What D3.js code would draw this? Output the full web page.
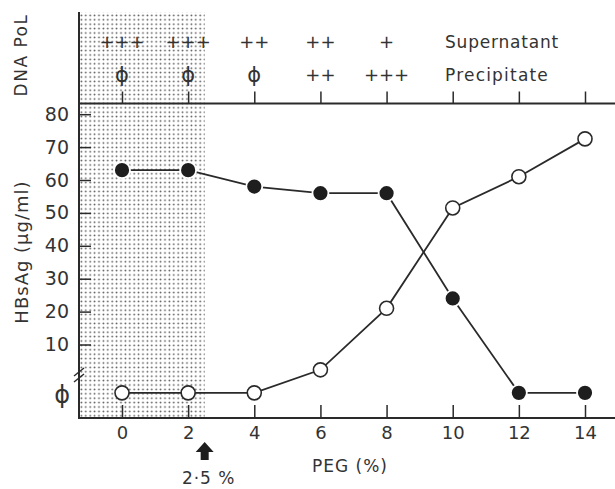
<!DOCTYPE html>
<html><head><meta charset="utf-8">
<script src="https://cdn.jsdelivr.net/npm/d3@7"></script>
<style>
html,body{margin:0;padding:0;background:#fff;}
text{font-family:"DejaVu Sans",sans-serif;fill:#333;}
</style></head>
<body><svg id="c" width="615" height="489"></svg>
<script>
// ---- data ----
const peg = [0, 2, 4, 6, 8, 10, 12, 14];
// null = not detected (ϕ)
const supernatantHBsAg = [63, 63, 58, 56, 56, 24, null, null];   // filled circles
const precipitateHBsAg = [null, null, null, 2.3, 21, 51.5, 61, 72.5]; // open circles
const yTicks = [10, 20, 30, 40, 50, 60, 70, 80];
const dnaPolPeg = [0, 2, 4, 6, 8];
const dnaPolSupernatant = ["+++", "+++", "++", "++", "+"];
const dnaPolPrecipitate = ["ϕ", "ϕ", "ϕ", "++", "+++"];
const cutoff = 2.5;

const svg = d3.select("#c");
const W = 615;
const axX = 79, topY = 12, sepY = 103.5, botY = 418;

const x = d3.scaleLinear().domain([0, 14]).range([122, 585]);
const y = d3.scaleLinear().domain([10, 80]).range([344.5, 114.2]);
const phiY = y(-4.7);
const yv = v => v === null ? phiY : y(v);

// shading pattern
const defs = svg.append("defs");
const pat = defs.append("pattern").attr("id", "dots").attr("patternUnits", "userSpaceOnUse")
  .attr("width", 4.4).attr("height", 4.4);
pat.append("circle").attr("cx", 2.2).attr("cy", 2.2).attr("r", 0.9).attr("fill", "#555");
svg.append("rect").attr("x", axX).attr("y", topY).attr("width", x(cutoff) - axX)
  .attr("height", botY - topY).attr("fill", "url(#dots)");

// axes lines
const lineCol = "#2a2a2a";
svg.append("line").attr("x1", axX).attr("x2", axX).attr("y1", topY).attr("y2", botY)
  .attr("stroke", lineCol).attr("stroke-width", 2);
svg.append("line").attr("x1", axX - 1).attr("x2", W).attr("y1", botY).attr("y2", botY)
  .attr("stroke", lineCol).attr("stroke-width", 2);
svg.append("line").attr("x1", axX - 1).attr("x2", W).attr("y1", sepY).attr("y2", sepY)
  .attr("stroke", lineCol).attr("stroke-width", 2);

// x axis (ticks inward)
const gx = svg.append("g").attr("transform", `translate(0,${botY})`)
  .call(d3.axisBottom(x).tickValues(peg).tickSize(-13).tickSizeOuter(0).tickPadding(8));
gx.select(".domain").remove();
gx.selectAll(".tick line").attr("stroke", lineCol).attr("stroke-width", 1.5);
gx.selectAll(".tick text").attr("font-size", 18).attr("font-family", "DejaVu Sans").attr("fill", "#333");

// top panel ticks
const gt = svg.append("g").attr("transform", `translate(0,${sepY})`)
  .call(d3.axisBottom(x).tickValues(peg).tickSize(-12).tickSizeOuter(0).tickFormat(""));
gt.select(".domain").remove();
gt.selectAll(".tick line").attr("stroke", lineCol).attr("stroke-width", 1.5);

// y axis
const gy = svg.append("g").attr("transform", `translate(${axX},0)`)
  .call(d3.axisLeft(y).tickValues(yTicks).tickSize(-12).tickSizeOuter(0).tickPadding(10));
gy.select(".domain").remove();
gy.selectAll(".tick line").attr("stroke", lineCol).attr("stroke-width", 1.5);
gy.selectAll(".tick text").attr("font-size", 19).attr("font-family", "DejaVu Sans").attr("fill", "#333");
svg.append("text").attr("x", 70).attr("y", phiY + 2).attr("dy", "0.35em").attr("text-anchor", "end")
  .attr("font-size", 24).text("ϕ");

// axis break
[-3, 3].forEach(o => {
  svg.append("line").attr("x1", axX - 5).attr("y1", 375 + o + 4).attr("x2", axX + 5).attr("y2", 375 + o - 4)
    .attr("stroke", lineCol).attr("stroke-width", 1.5);
});

// lines + markers
const line = d3.line().x((d, i) => x(peg[i])).y(d => yv(d));
svg.append("path").datum(precipitateHBsAg).attr("d", line).attr("fill", "none")
  .attr("stroke", lineCol).attr("stroke-width", 1.8);
svg.append("path").datum(supernatantHBsAg).attr("d", line).attr("fill", "none")
  .attr("stroke", lineCol).attr("stroke-width", 1.8);
svg.selectAll(".open").data(precipitateHBsAg).join("circle")
  .attr("cx", (d, i) => x(peg[i])).attr("cy", d => yv(d)).attr("r", 7)
  .attr("fill", "#fff").attr("stroke", lineCol).attr("stroke-width", 1.6);
svg.selectAll(".filled").data(supernatantHBsAg).join("circle")
  .attr("cx", (d, i) => x(peg[i])).attr("cy", d => yv(d)).attr("r", 8)
  .attr("fill", "#1e1e1e").attr("stroke", "#fff").attr("stroke-width", 1.8);

// top panel texts
svg.selectAll(".sup").data(dnaPolSupernatant).join("text")
  .attr("x", (d, i) => x(dnaPolPeg[i])).attr("y", 42).attr("dy", "0.35em")
  .attr("text-anchor", "middle").attr("font-size", 18).text(d => d);
svg.selectAll(".pre").data(dnaPolPrecipitate).join("text")
  .attr("x", (d, i) => x(dnaPolPeg[i])).attr("y", 75).attr("dy", "0.35em")
  .attr("text-anchor", "middle").attr("font-size", d => d === "ϕ" ? 21 : 18).text(d => d);
svg.append("text").attr("x", 445).attr("y", 42).attr("dy", "0.35em").attr("font-size", 17)
  .attr("letter-spacing", 0.8).text("Supernatant");
svg.append("text").attr("x", 445).attr("y", 75).attr("dy", "0.35em").attr("font-size", 17)
  .attr("letter-spacing", 1.2).text("Precipitate");
svg.append("text").attr("transform", "translate(21,55) rotate(-90)").attr("dy", "0.35em")
  .attr("text-anchor", "middle").attr("font-size", 17).attr("letter-spacing", 1.5).text("DNA PoL");

// axis titles
svg.append("text").attr("transform", "translate(22,252) rotate(-90)").attr("dy", "0.35em")
  .attr("text-anchor", "middle").attr("font-size", 18).attr("letter-spacing", 1).text("HBsAg (μg/ml)");
svg.append("text").attr("x", 350).attr("y", 466).attr("dy", "0.35em").attr("text-anchor", "middle")
  .attr("font-size", 17).attr("letter-spacing", 1).text("PEG (%)");

// cutoff arrow
const ax = x(cutoff);
svg.append("path").attr("d", `M${ax},442 L${ax + 9},452 L${ax + 4},452 L${ax + 4},460 L${ax - 4},460 L${ax - 4},452 L${ax - 9},452 Z`)
  .attr("fill", "#1e1e1e");
svg.append("text").attr("x", ax + 4).attr("y", 478).attr("dy", "0.35em").attr("text-anchor", "middle")
  .attr("font-size", 17).attr("letter-spacing", 1).text("2·5 %");
</script></body></html>
